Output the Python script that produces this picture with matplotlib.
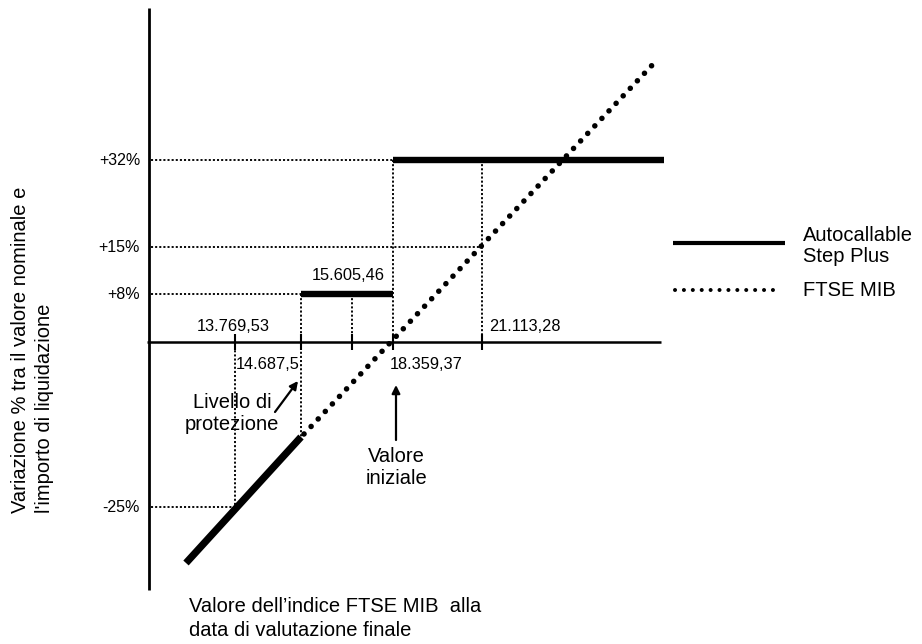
import matplotlib
matplotlib.use("Agg")
import matplotlib.pyplot as plt

plt.rcParams['font.family'] = ['Liberation Sans', 'DejaVu Sans']

# ---- chart values (schematic payoff diagram) ----
index_labels = ["13.769,53", "14.687,5", "15.605,46", "18.359,37", "21.113,28"]
pct_labels = ["+32%", "+15%", "+8%", "-25%"]
series_names = ["Autocallable\nStep Plus", "FTSE MIB"]
annot_protection = "Livello di\nprotezione"
annot_initial = "Valore\niniziale"
ylabel_lines = ["Variazione % tra il valore nominale e", "l'importo di liquidazione"]
xlabel_lines = ["Valore dell\u2019indice FTSE MIB  alla", "data di valutazione finale"]

# ---- schematic layout (diagram is not to scale) ----
AX_X, AX_Y = 149, 342
tick_x = [235, 301, 352, 393, 482]          # positions of the index levels
level_y = [160, 247, 294, 507]              # positions of +32, +15, +8, -25 %

fig = plt.figure(figsize=(9.22, 6.44), dpi=100)
ax = fig.add_axes([0, 0, 1, 1])
ax.set_xlim(0, 922)
ax.set_ylim(644, 0)
ax.axis('off')

k = 'black'
# axes
ax.plot([AX_X, AX_X], [8, 590], color=k, lw=2.0, solid_capstyle='butt')
ax.plot([AX_X - 2, 661], [AX_Y, AX_Y], color=k, lw=1.8, solid_capstyle='butt')
for x in tick_x:
    ax.plot([x, x], [334, 350], color=k, lw=1.5, solid_capstyle='butt')

# thin dotted guides
guide = dict(color=k, lw=1.35, linestyle=(0, (1.1, 1.1)))
y32, y15, y8, ym25 = level_y
x137, x146, x156, x183, x211 = tick_x
ax.plot([AX_X + 2, x183], [y32, y32], **guide)
ax.plot([AX_X + 2, x211], [y15, y15], **guide)
ax.plot([AX_X + 2, x146], [y8, y8], **guide)
ax.plot([AX_X + 2, x137 + 4], [ym25, ym25], **guide)
ax.plot([x183, x183], [y32, AX_Y + 3], **guide)
ax.plot([x211, x211], [y32, AX_Y], **guide)
ax.plot([x146, x146], [y8, 437], **guide)
ax.plot([x156, x156], [y8, AX_Y], **guide)
ax.plot([x137, x137], [AX_Y, ym25], **guide)

# FTSE MIB dotted line
ax.plot([304, 657], [434, 60], color=k, lw=4.0, linestyle=(0, (0.01, 1.85)),
        dash_capstyle='round')

# Autocallable Step Plus payoff
thick = dict(color=k, lw=4.6, solid_capstyle='butt')
ax.plot([186, 301], [563, 437], color=k, lw=5.2, solid_capstyle='butt')
ax.plot([x146, x183], [y8, y8], **thick)
ax.plot([x183, 664], [y32, y32], **thick)

# y level labels
for lab, y in zip(pct_labels, level_y):
    ax.text(140, y, lab, ha='right', va='center', fontsize=11.5)

# index level labels
fs_t = 11.8
ax.text(233, 326, index_labels[0], ha='center', va='center', fontsize=fs_t)
ax.text(236, 364, index_labels[1], ha='left', va='center', fontsize=fs_t)
ax.text(348, 275, index_labels[2], ha='center', va='center', fontsize=fs_t)
ax.text(390, 364, index_labels[3], ha='left', va='center', fontsize=fs_t)
ax.text(489, 326, index_labels[4], ha='left', va='center', fontsize=fs_t)

# annotations
fs_a = 14.5
ax.text(232, 413, annot_protection, ha='center', va='center', fontsize=fs_a,
        linespacing=1.2)
ax.annotate('', xy=(298, 381), xytext=(275, 412),
            arrowprops=dict(arrowstyle='-|>', color=k, lw=1.6,
                            mutation_scale=12, shrinkA=0, shrinkB=0))
ax.text(396, 467, annot_initial, ha='center', va='center', fontsize=fs_a,
        linespacing=1.2)
ax.annotate('', xy=(396, 385), xytext=(396, 440),
            arrowprops=dict(arrowstyle='-|>', color=k, lw=1.6,
                            mutation_scale=12, shrinkA=0, shrinkB=0))

# axis titles
ax.text(21, 513, ylabel_lines[0], rotation=90, ha='center', va='bottom',
        fontsize=fs_a)
ax.text(45, 513, ylabel_lines[1], rotation=90, ha='center', va='bottom',
        fontsize=fs_a)
ax.text(189, 606, xlabel_lines[0], ha='left', va='center', fontsize=fs_a)
ax.text(189, 630, xlabel_lines[1], ha='left', va='center', fontsize=fs_a)

# legend
ax.plot([673, 785], [243, 243], color=k, lw=3.0, solid_capstyle='butt')
ax.plot([675, 780], [290, 290], color=k, lw=2.9, linestyle=(0, (0.01, 2.2)),
        dash_capstyle='round')
ax.text(803, 246, series_names[0], ha='left', va='center', fontsize=fs_a,
        linespacing=1.15)
ax.text(803, 290, series_names[1], ha='left', va='center', fontsize=fs_a)

fig.savefig('out.png', dpi=100)
